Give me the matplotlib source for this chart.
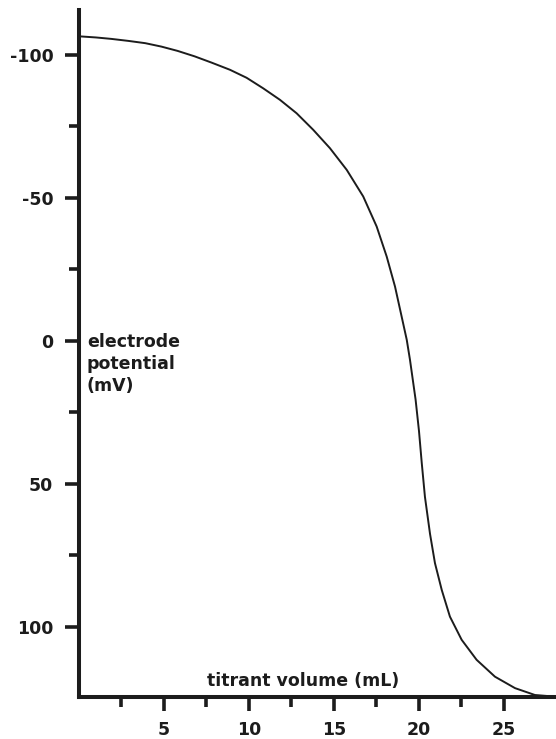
import matplotlib
matplotlib.use("Agg")
import matplotlib.pyplot as plt
from matplotlib.ticker import FixedLocator

# Data
volume_ml = [0.0, 1.0, 1.9, 2.9, 3.9, 4.85, 5.8, 6.8, 7.8, 8.88, 9.86, 10.84,
             11.82, 12.8, 13.78, 14.76, 15.75, 16.72, 17.51, 18.1, 18.59,
             18.98, 19.28, 19.47, 19.8, 20.0, 20.16, 20.35, 20.65, 20.94,
             21.34, 21.82, 22.51, 23.39, 24.47, 25.65, 26.82, 28.06]
potential_mv = [-106.5, -106.1, -105.6, -104.9, -104.1, -102.9, -101.4, -99.5,
                -97.3, -94.8, -92.0, -88.3, -84.3, -79.6, -73.8, -67.4, -59.8,
                -50.5, -40.0, -29.5, -19.0, -8.5, -0.4, 6.6, 20.5, 31.5, 42.5,
                54.5, 67.5, 77.7, 87.1, 96.4, 104.5, 111.5, 117.4, 121.4,
                123.8, 124.4]

x_major = [5, 10, 15, 20, 25]
x_minor = [2.5, 7.5, 12.5, 17.5, 22.5]
y_major = [-100, -50, 0, 50, 100]
y_minor = [-75, -25, 25, 75]
x_label = "titrant volume (mL)"
y_label = "electrode\npotential\n(mV)"

plt.rcParams['font.family'] = ['DejaVu Sans']
ink = "#1c1c1c"

fig = plt.figure(figsize=(5.56, 7.39), dpi=100)
W, H = 556, 739
ax = fig.add_axes([79 / W, 42 / H, 1 - 79 / W, (697 - 10) / H])

ax.plot(volume_ml, potential_mv, color=ink, lw=1.4, solid_joinstyle='round',
        solid_capstyle='round', clip_on=False)

ax.set_xlim(0, 28.06)
ax.set_ylim(124.5, -115.7)

for s in ['top', 'right']:
    ax.spines[s].set_visible(False)
for s in ['left', 'bottom']:
    ax.spines[s].set_linewidth(2.9)
    ax.spines[s].set_color(ink)
    ax.spines[s].set_capstyle('projecting')

ax.xaxis.set_major_locator(FixedLocator(x_major))
ax.xaxis.set_minor_locator(FixedLocator(x_minor))
ax.yaxis.set_major_locator(FixedLocator(y_major))
ax.yaxis.set_minor_locator(FixedLocator(y_minor))
ax.set_xticklabels([str(v) for v in x_major])
ax.set_yticklabels([str(v) for v in y_major])

ax.tick_params(axis='both', which='major', length=10, width=2.6, color=ink,
               direction='out', labelsize=12.5, labelcolor=ink)
ax.tick_params(axis='both', which='minor', length=7.5, width=2.6, color=ink,
               direction='out')
ax.tick_params(axis='y', which='major', pad=8.5)
ax.tick_params(axis='x', which='major', pad=7)
for lab in ax.get_xticklabels() + ax.get_yticklabels():
    lab.set_fontweight('bold')

ax.text(7.53, 120.6, x_label, fontsize=12.5, fontweight='bold', color=ink,
        ha='left', va='baseline')
ax.text(0.47, -2.8, y_label, fontsize=12.5, fontweight='bold', color=ink,
        ha='left', va='top', linespacing=1.3)

fig.savefig("out.png", dpi=100)
